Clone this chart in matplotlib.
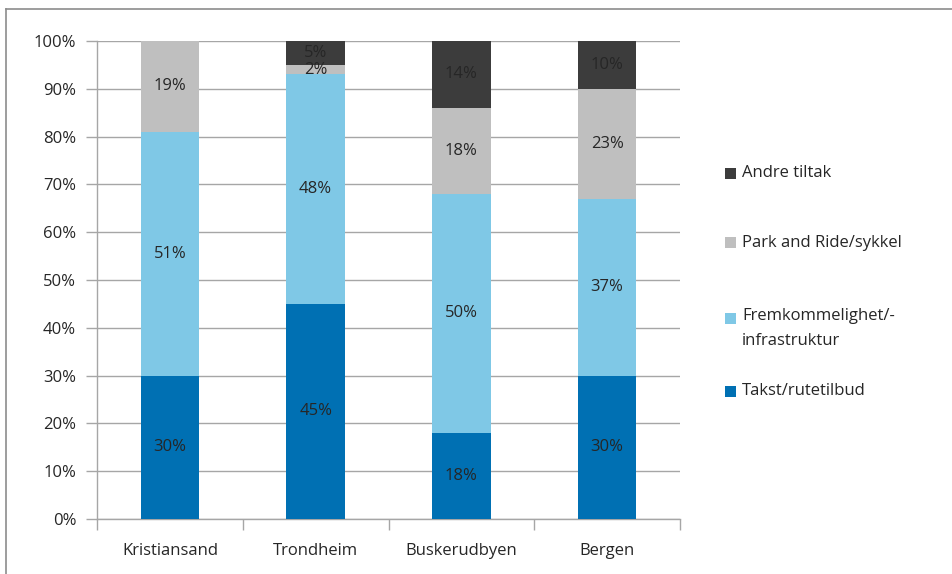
import matplotlib
matplotlib.use("Agg")
import matplotlib.pyplot as plt
from matplotlib.patches import Rectangle
from matplotlib.lines import Line2D
import numpy as np

plt.rcParams['font.family'] = ['Open Sans', 'DejaVu Sans']

categories = ["Kristiansand", "Trondheim", "Buskerudbyen", "Bergen"]
series_names = ["Takst/rutetilbud", "Fremkommelighet/-\ninfrastruktur",
                "Park and Ride/sykkel", "Andre tiltak"]
takst = [30, 45, 18, 30]
fremkommelighet = [51, 48, 50, 37]
park_ride = [19, 2, 18, 23]
andre = [0, 5, 14, 10]
yticks = [0, 10, 20, 30, 40, 50, 60, 70, 80, 90, 100]
colors = ["#0070B3", "#7FC8E6", "#BFBFBF", "#3C3C3C"]

series = [takst, fremkommelighet, park_ride, andre]
FS = 12

fig = plt.figure(figsize=(9.53, 5.74), dpi=100)
ax = fig.add_axes([97/953, 1-519/574, (680-97)/953, (519-41)/574])

x = np.arange(len(categories))
bottom = np.zeros(len(categories))
for vals, col in zip(series, colors):
    v = np.array(vals, dtype=float)
    ax.bar(x, v, 0.4, bottom=bottom, color=col, zorder=3, linewidth=0)
    for xi, b, h in zip(x, bottom, v):
        if h > 0:
            ax.text(xi, b + h/2, f"{int(h)}%", ha="center", va="center",
                    fontsize=FS, color="#262626", zorder=4)
    bottom += v

ax.set_xlim(-0.5, len(categories) - 0.5)
ax.set_ylim(0, 100)
ax.set_yticks(yticks)
ax.set_yticklabels([f"{t}%" for t in yticks])
ax.yaxis.grid(True, color="#A6A6A6", linewidth=1, zorder=0)
ax.set_axisbelow(True)

ax.set_xticks(x)
ax.set_xticklabels(categories)
ax.set_xticks(np.arange(-0.5, len(categories)), minor=True)
ax.tick_params(axis="x", which="major", length=0, pad=17, labelsize=FS, labelcolor="#262626")
ax.tick_params(axis="x", which="minor", length=8, width=1, color="#A6A6A6", direction="out")
ax.tick_params(axis="y", length=8, width=1, color="#A6A6A6", pad=7, labelsize=FS, labelcolor="#262626")

for s in ["top", "right"]:
    ax.spines[s].set_visible(False)
for s in ["left", "bottom"]:
    ax.spines[s].set_color("#A6A6A6")
    ax.spines[s].set_linewidth(1)

# Legend (reversed order), drawn in figure coordinates
leg_y = [173, 243, 318, 391]
order = [3, 2, 1, 0]
W, H = 953, 574
for yy, idx in zip(leg_y, order):
    fig.add_artist(Rectangle((725/W, 1-(yy+5.5)/H), 11/W, 11/H,
                             transform=fig.transFigure, color=colors[idx], lw=0))
    two = "\n" in series_names[idx]
    fig.text(742/W, 1-(yy-10)/H if two else 1-yy/H, series_names[idx], ha="left",
             va="top" if two else "center",
             fontsize=FS, color="#262626", linespacing=1.75)

# Outer frame
fig.add_artist(Line2D([6/W, 6/W], [0, 1-9/H], transform=fig.transFigure, color="#8C8C8C", lw=1.2))
fig.add_artist(Line2D([6/W, 1], [1-9/H, 1-9/H], transform=fig.transFigure, color="#8C8C8C", lw=1.2))

fig.savefig("out.png", dpi=100)
